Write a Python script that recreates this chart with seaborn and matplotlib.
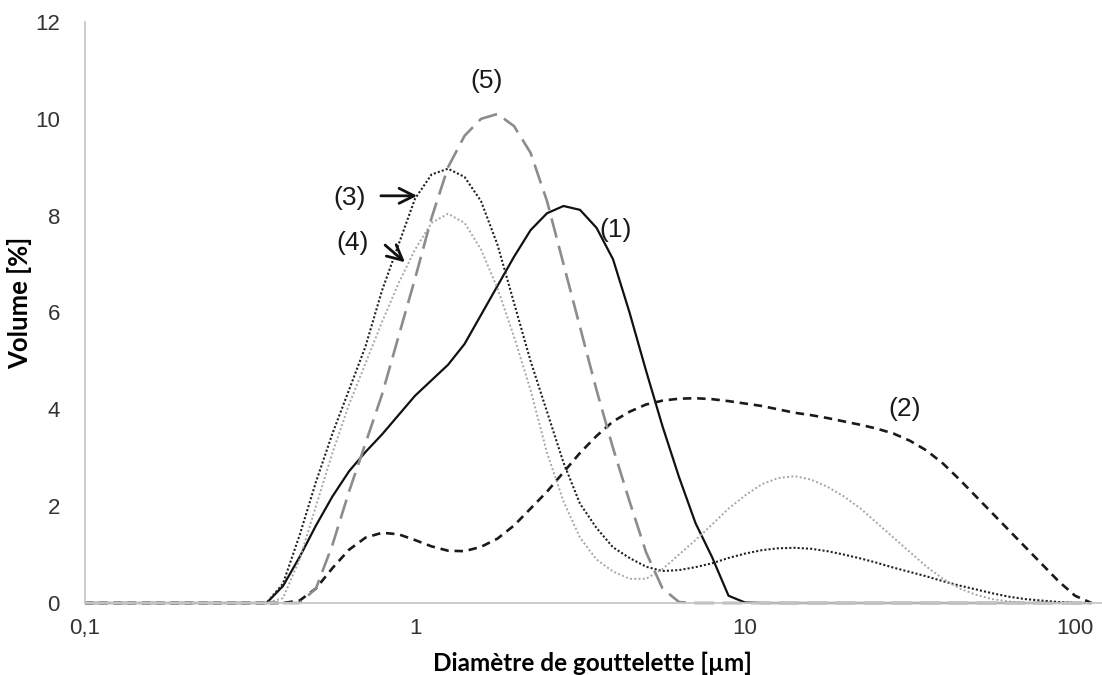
import matplotlib
matplotlib.use("Agg")
import matplotlib.pyplot as plt
import pandas as pd
import seaborn as sns

# ---- data ----
diametre = [0.100, 0.112, 0.126, 0.141, 0.158, 0.178, 0.200, 0.224, 0.251, 0.282,
            0.316, 0.355, 0.398, 0.447, 0.501, 0.562, 0.631, 0.708, 0.794, 0.891,
            1.000, 1.122, 1.259, 1.413, 1.585, 1.778, 1.995, 2.239, 2.512, 2.818,
            3.162, 3.548, 3.981, 4.467, 5.012, 5.623, 6.310, 7.079, 7.943, 8.913,
            10.00, 11.22, 12.59, 14.13, 15.85, 17.78, 19.95, 22.39, 25.12, 28.18,
            31.62, 35.48, 39.81, 44.67, 50.12, 56.23, 63.10, 70.79, 79.43, 89.13,
            100.0, 112.2]

zeros10 = [0] * 10

courbe1 = zeros10 + [0, 0, 0.35, 0.95, 1.6, 2.2, 2.72, 3.12, 3.48, 3.88,
                     4.28, 4.6, 4.92, 5.35, 5.95, 6.55, 7.15, 7.7, 8.05, 8.2,
                     8.12, 7.75, 7.1, 6.0, 4.8, 3.65, 2.6, 1.65, 0.95, 0.15,
                     0.01, 0, 0, 0, 0, 0, 0, 0, 0, 0,
                     0, 0, 0, 0, 0, 0, 0, 0, 0, 0,
                     0, 0]
courbe2 = zeros10 + [0, 0, 0, 0.05, 0.3, 0.72, 1.1, 1.35, 1.45, 1.42,
                     1.3, 1.17, 1.08, 1.07, 1.16, 1.33, 1.6, 1.95, 2.3, 2.7,
                     3.1, 3.45, 3.75, 3.95, 4.1, 4.18, 4.22, 4.23, 4.21, 4.17,
                     4.12, 4.07, 4.0, 3.93, 3.88, 3.82, 3.75, 3.68, 3.6, 3.5,
                     3.35, 3.15, 2.88, 2.55, 2.2, 1.85, 1.5, 1.15, 0.8, 0.45,
                     0.15, 0]
courbe3 = zeros10 + [0, 0, 0.4, 1.4, 2.5, 3.5, 4.4, 5.3, 6.45, 7.4,
                     8.35, 8.85, 8.97, 8.8, 8.3, 7.4, 6.2, 5.0, 3.95, 2.9,
                     2.05, 1.55, 1.15, 0.93, 0.75, 0.66, 0.68, 0.74, 0.82, 0.93,
                     1.02, 1.09, 1.13, 1.14, 1.12, 1.07, 1.0, 0.92, 0.83, 0.73,
                     0.64, 0.55, 0.45, 0.36, 0.28, 0.2, 0.13, 0.08, 0.05, 0.02,
                     0, 0]
courbe4 = zeros10 + [0, 0, 0.1, 0.9, 2.0, 3.1, 4.1, 4.95, 5.8, 6.6,
                     7.3, 7.85, 8.04, 7.85, 7.3, 6.5, 5.5, 4.4, 3.1, 2.1,
                     1.35, 0.9, 0.65, 0.5, 0.5, 0.7, 1.0, 1.3, 1.62, 1.95,
                     2.22, 2.45, 2.58, 2.62, 2.55, 2.4, 2.2, 1.95, 1.65, 1.35,
                     1.05, 0.75, 0.5, 0.3, 0.17, 0.08, 0.03, 0, 0, 0,
                     0, 0]
courbe5 = zeros10 + [0, 0, 0, 0, 0.3, 1.2, 2.3, 3.3, 4.3, 5.5,
                     6.7, 7.95, 9.0, 9.65, 10.0, 10.1, 9.85, 9.3, 8.3, 7.0,
                     5.7, 4.4, 3.2, 2.1, 1.05, 0.3, 0.02, 0, 0, 0,
                     0, 0, 0, 0, 0, 0, 0, 0, 0, 0,
                     0, 0, 0, 0, 0, 0, 0, 0, 0, 0,
                     0, 0]

x_ticks = [0.1, 1, 10, 100]
x_ticklabels = ["0,1", "1", "10", "100"]
y_ticks = [0, 2, 4, 6, 8, 10, 12]

series_names = ["(1)", "(2)", "(3)", "(4)", "(5)"]
series_values = [courbe1, courbe2, courbe3, courbe4, courbe5]

# ---- styles ----
styles = {
    "(1)": dict(color="#111111", lw=1.6, dashes=None),
    "(2)": dict(color="#1a1a1a", lw=1.9, dashes=(3.2, 2.2)),
    "(3)": dict(color="#222222", lw=1.5, dashes=(1.0, 1.0)),
    "(4)": dict(color="#a6a6a6", lw=1.4, dashes=(1.0, 1.2)),
    "(5)": dict(color="#8c8c8c", lw=1.9, dashes=(7.5, 3.2)),
}

sns.set_theme(style="white")
plt.rcParams["font.family"] = ["Liberation Sans", "DejaVu Sans"]

fig = plt.figure(figsize=(11.02, 6.75), dpi=100)
W, H = 1102, 675
ax = fig.add_axes([85 / W, (H - 603) / H, (W - 85) / W, (603 - 22) / H])

for name, vals in zip(series_names, series_values):
    df = pd.DataFrame({"Diametre": diametre, "Volume": vals})
    st = styles[name]
    sns.lineplot(data=df, x="Diametre", y="Volume", ax=ax, color=st["color"],
                 linewidth=st["lw"], estimator=None, sort=False)
    line = ax.get_lines()[-1]
    if st["dashes"] is not None:
        line.set_dashes(st["dashes"])
    line.set_clip_on(False)

ax.set_xscale("log")
ax.set_xlim(0.1, 120.7)
ax.set_ylim(0, 12)
ax.set_xticks(x_ticks)
ax.set_xticklabels(x_ticklabels)
ax.set_yticks(y_ticks)
ax.set_yticklabels([str(v) for v in y_ticks])
ax.xaxis.set_minor_locator(matplotlib.ticker.NullLocator())
ax.tick_params(axis="both", length=0, labelsize=16, colors="#333333")
ax.tick_params(axis="x", pad=11)
ax.tick_params(axis="y", pad=18)

for side in ["top", "right"]:
    ax.spines[side].set_visible(False)
for side in ["left", "bottom"]:
    ax.spines[side].set_color("#c8c8c8")
    ax.spines[side].set_linewidth(1.3)
ax.grid(False)

ax.set_xlabel("Diamètre de gouttelette [µm]", fontsize=17.5, fontweight="bold",
              family=["Lato", "DejaVu Sans"], color="black", va="center")
ax.xaxis.set_label_coords((592 - 85) / 1017, (603 - 663) / 581)
ax.set_ylabel("Volume [%]", fontsize=18.5, fontweight="bold",
              family=["Lato", "DejaVu Sans"], color="black", va="center")
ax.yaxis.set_label_coords((20 - 85) / 1017, (603 - 303) / 581)

ann_kw = dict(fontsize=19, color="#1a1a1a", ha="center", va="center")
ax.text(4.04, 7.7, "(1)", **ann_kw)
ax.text(30.5, 4.0, "(2)", **ann_kw)
ax.text(0.635, 8.37, "(3)", **ann_kw)
ax.text(0.649, 7.44, "(4)", **ann_kw)
ax.text(1.65, 10.78, "(5)", **ann_kw)

arrow_kw = dict(arrowstyle="->", color="#111111", lw=2.0, mutation_scale=27)
ax.annotate("", xy=(1.035, 8.41), xytext=(0.773, 8.41), arrowprops=arrow_kw)
ax.annotate("", xy=(0.946, 7.0), xytext=(0.80, 7.43), arrowprops=arrow_kw)

fig.savefig("out.png", dpi=100)
